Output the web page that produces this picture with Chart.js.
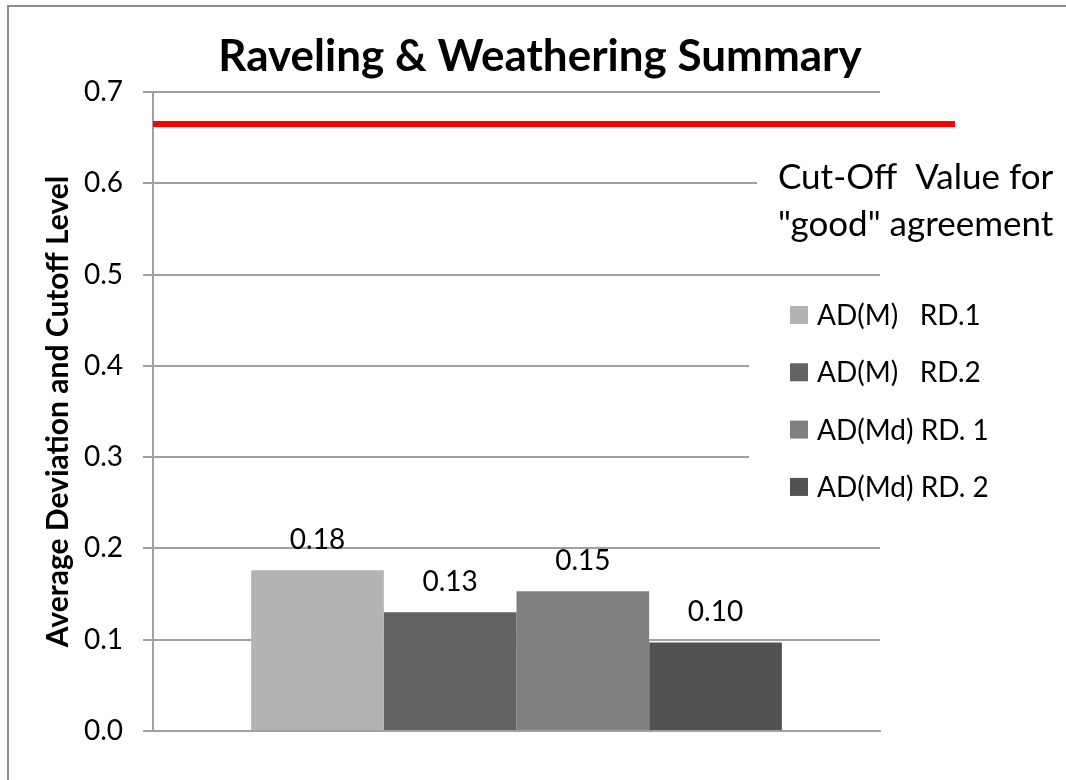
<!DOCTYPE html>
<html>
<head>
<meta charset="utf-8">
<script src="https://cdn.jsdelivr.net/npm/chart.js@4.4.1/dist/chart.umd.min.js"></script>
<style>
  html, body { margin: 0; padding: 0; background: #fff; overflow: hidden; }
  canvas { display: block; }
</style>
</head>
<body>
<canvas id="myChart" width="1066" height="780"></canvas>
<script>
'use strict';

// data
const categories = [''];
const seriesNames = ['AD(M)   RD.1', 'AD(M)   RD.2', 'AD(Md) RD. 1', 'AD(Md) RD. 2'];
const seriesValues = [0.176, 0.130, 0.153, 0.097];
const seriesLabels = ['0.18', '0.13', '0.15', '0.10'];
const cutoffValue = 0.665;
const cutoffText = ['Cut-Off  Value for', '"good" agreement'];
const yTicks = [0.0, 0.1, 0.2, 0.3, 0.4, 0.5, 0.6, 0.7];

const seriesColors = ['#b3b3b3', '#636363', '#808080', '#525252'];
const FONT = 'Lato, "Open Sans", sans-serif';

const decor = {
  id: 'decor',
  beforeDraw(chart) {
    const ctx = chart.ctx;
    ctx.save();
    ctx.fillStyle = '#fff';
    ctx.fillRect(0, 0, chart.width, chart.height);
    ctx.strokeStyle = '#8c8c8c';
    ctx.lineWidth = 2;
    ctx.strokeRect(8, 6, chart.width + 40, chart.height + 40);
    // main title
    ctx.fillStyle = '#000';
    ctx.font = 'bold 44px ' + FONT;
    ctx.textAlign = 'center';
    ctx.textBaseline = 'alphabetic';
    ctx.fillText('Raveling & Weathering Summary', 540, 71);
    ctx.restore();
  },
  afterDatasetsDraw(chart) {
    const ctx = chart.ctx;
    const y = chart.scales.y;
    const area = chart.chartArea;
    ctx.save();

    // value labels above the bars
    ctx.fillStyle = '#000';
    ctx.font = '28px ' + FONT;
    ctx.textAlign = 'center';
    ctx.textBaseline = 'alphabetic';
    chart.data.datasets.forEach((ds, i) => {
      const bar = chart.getDatasetMeta(i).data[0];
      ctx.fillText(seriesLabels[i], bar.x, bar.y - 21);
    });

    // cutoff line
    const cy = y.getPixelForValue(cutoffValue);
    ctx.strokeStyle = '#ff0000';
    ctx.lineWidth = 6;
    ctx.beginPath();
    ctx.moveTo(area.left, cy);
    ctx.lineTo(area.right + 75, cy);
    ctx.stroke();

    // cutoff text box
    ctx.fillStyle = '#fff';
    ctx.fillRect(757, 150, 305, 100);
    ctx.fillStyle = '#000';
    ctx.font = '35px ' + FONT;
    ctx.textAlign = 'left';
    ctx.fillText(cutoffText[0], 778, 189);
    ctx.fillText(cutoffText[1], 778, 236);

    // legend
    ctx.fillStyle = '#fff';
    ctx.fillRect(749, 288, 305, 222);
    ctx.font = '28px ' + FONT;
    ctx.textBaseline = 'middle';
    seriesNames.forEach((name, i) => {
      const ly = 315 + i * 57.3;
      ctx.fillStyle = seriesColors[i];
      ctx.fillRect(790, ly - 9, 18, 18);
      ctx.fillStyle = '#000';
      ctx.fillText(name, 817, ly + 1);
    });
    ctx.restore();
  }
};

const ctx = document.getElementById('myChart').getContext('2d');
const chart = new Chart(ctx, {
  type: 'bar',
  data: {
    labels: categories,
    datasets: seriesNames.map((name, i) => ({
      label: name,
      data: [seriesValues[i]],
      backgroundColor: seriesColors[i],
      borderWidth: 0,
      categoryPercentage: 0.73,
      barPercentage: 1.0
    }))
  },
  options: {
    responsive: false,
    animation: false,
    layout: { padding: { left: 0, right: 186, top: 92, bottom: 49 } },
    plugins: {
      legend: { display: false },
      title: { display: false },
      tooltip: { enabled: false }
    },
    scales: {
      x: {
        grid: { display: false },
        ticks: { display: false },
        border: { display: true, color: '#a0a0a0', width: 2 },
        afterFit(scale) { scale.height = 0; }
      },
      y: {
        min: 0,
        max: 0.7,
        afterBuildTicks(scale) { scale.ticks = yTicks.map(v => ({ value: v })); },
        ticks: {
          callback: v => v.toFixed(1),
          color: '#000',
          font: { family: FONT, size: 28 },
          padding: 20
        },
        grid: { color: '#a0a0a0', lineWidth: 2, tickLength: 10 },
        border: { color: '#a0a0a0', width: 2 },
        title: {
          display: true,
          text: 'Average Deviation and Cutoff Level',
          color: '#000',
          font: { family: FONT, size: 30, weight: 'bold' },
          padding: { top: 40, bottom: 0 }
        },
        afterFit(scale) { scale.width = 153; }
      }
    }
  },
  plugins: [decor]
});
</script>
</body>
</html>
